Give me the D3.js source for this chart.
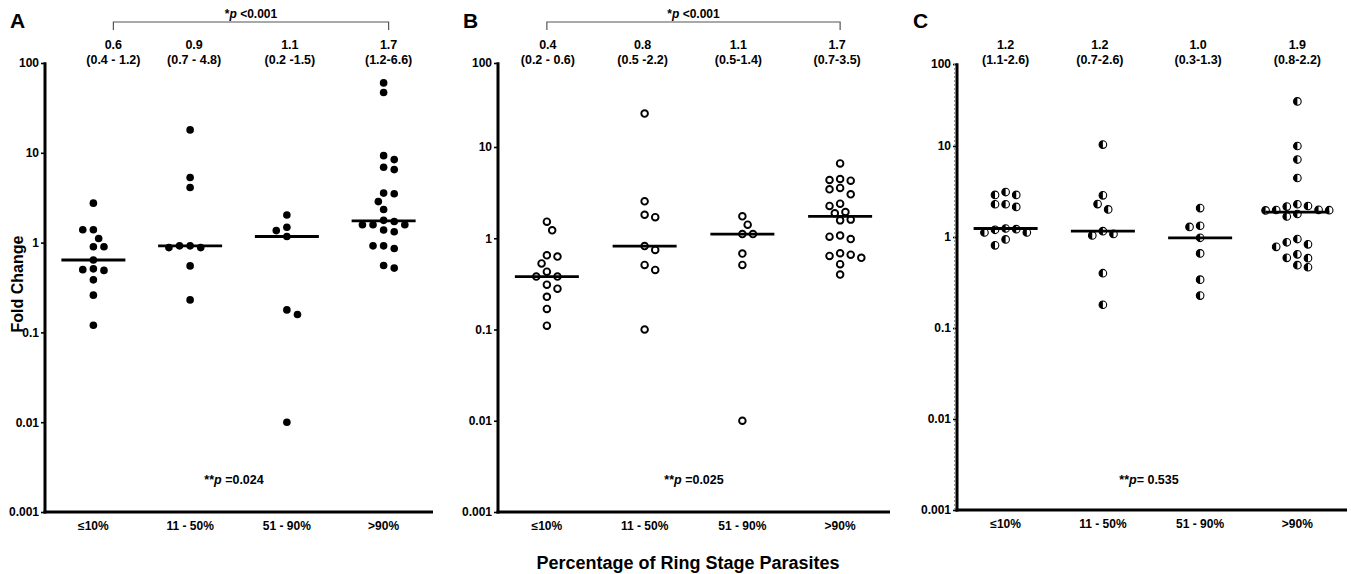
<!DOCTYPE html>
<html>
<head>
<meta charset="utf-8">
<script src="https://cdn.jsdelivr.net/npm/d3@7"></script>
<style>
    body { margin: 0; background: #fff; }
    text { font-family: "Liberation Sans", Arial, sans-serif; font-weight: bold; fill: #000; }
</style>
</head>
<body>
<svg id="chart" width="1351" height="574"></svg>
<script>
// categories and axis ticks
const categories = ["≤10%", "11 - 50%", "51 - 90%", ">90%"];
const yTicks = [0.001, 0.01, 0.1, 1, 10, 100];
const yTickLabels = ["0.001", "0.01", "0.1", "1", "10", "100"];

// panel A - fold change per group (filled dots)
const valuesA = [
    [2.75, 1.39, 1.39, 1.11, 0.90, 0.90, 0.64, 0.51, 0.50, 0.49, 0.385, 0.26, 0.12],
    [18, 5.3, 4.1, 0.92, 0.92, 0.88, 0.88, 0.55, 0.23],
    [2.03, 1.48, 1.36, 1.17, 0.178, 0.158, 0.01],
    [60, 47, 9.3, 8.4, 6.9, 6.5, 3.56, 3.5, 2.86, 2.34, 1.77, 1.72, 1.58, 1.58, 1.58, 1.38, 1.32, 0.92, 0.92, 0.86, 0.555, 0.52]
];
const medianA = ["0.6", "0.9", "1.1", "1.7"];
const rangeA = ["(0.4 - 1.2)", "(0.7 - 4.8)", "(0.2 -1.5)", "(1.2-6.6)"];

// panel B (open circles)
const valuesB = [
    [1.52, 1.22, 0.65, 0.63, 0.53, 0.43, 0.38, 0.38, 0.31, 0.28, 0.228, 0.168, 0.11],
    [25, 2.54, 1.81, 1.70, 0.82, 0.745, 0.51, 0.45, 0.1],
    [1.74, 1.41, 1.11, 1.11, 0.68, 0.51, 0.01],
    [6.6, 4.46, 4.35, 4.28, 3.56, 3.44, 3.03, 2.39, 2.26, 1.94, 1.88, 1.60, 1.57, 1.07, 1.04, 0.98, 0.685, 0.66, 0.64, 0.61, 0.52, 0.40]
];
const medianB = ["0.4", "0.8", "1.1", "1.7"];
const rangeB = ["(0.2 - 0.6)", "(0.5 -2.2)", "(0.5-1.4)", "(0.7-3.5)"];

// panel C (half filled circles)
const valuesC = [
    [3.12, 2.9, 2.9, 2.29, 2.29, 2.14, 1.24, 1.22, 1.2, 1.12, 1.12, 0.94, 0.81],
    [10.4, 2.87, 2.3, 2.01, 1.16, 1.08, 1.04, 0.40, 0.18],
    [2.08, 1.33, 1.29, 0.98, 0.66, 0.34, 0.227],
    [35, 10.0, 7.1, 4.45, 2.29, 2.19, 2.16, 1.99, 1.98, 1.97, 1.96, 1.79, 1.68, 0.95, 0.875, 0.83, 0.78, 0.645, 0.59, 0.585, 0.49, 0.465]
];
const medianC = ["1.2", "1.2", "1.0", "1.9"];
const rangeC = ["(1.1-2.6)", "(0.7-2.6)", "(0.3-1.3)", "(0.8-2.2)"];

// p values
const trendP = ["<0.001", "<0.001", null];
const kwP = ["=0.024", "=0.025", "= 0.535"];

const svg = d3.select("#chart");

// layout of the three panels
const panels = [
    { letter: "A", values: valuesA, medians: medianA, ranges: rangeA, trend: trendP[0], kw: kwP[0], kwSpace: " ",
      style: "filled", x0: 45, x1: 432, yDomain: [0.001, 100], yRange: [512, 63],
      labelDx: [20, 4, 3, 5], bracketDx: [20, 5], letterX: 10, kwX: 234 },
    { letter: "B", values: valuesB, medians: medianB, ranges: rangeB, trend: trendP[1], kw: kwP[1], kwSpace: " ",
      style: "open", x0: 498, x1: 889, yDomain: [0.001, 10, 100], yRange: [512, 147, 63],
      labelDx: [1, -2, -4, -3], bracketDx: [0, 0], letterX: 463, kwX: 694 },
    { letter: "C", values: valuesC, medians: medianC, ranges: rangeC, trend: trendP[2], kw: kwP[2], kwSpace: "",
      style: "half", x0: 957, x1: 1346, yDomain: [0.001, 10, 100], yRange: [510, 146, 64],
      labelDx: [0, -3, -2, 0], bracketDx: [0, 0], letterX: 913, kwX: 1149 }
];

// simple beeswarm: place each point on a lattice of horizontal offsets without overlap
function swarm(vals, y, minD, step) {
    const pts = vals.map(v => ({ v: v, y: y(v) })).sort((a, b) => a.y - b.y);
    const placed = [];
    pts.forEach((p, i) => {
        const side = i % 2 ? 1 : -1;
        for (let k = 0; k < 60; k++) {
            const off = k === 0 ? 0 : (k % 2 ? side : -side) * Math.ceil(k / 2) * step;
            if (placed.every(q => Math.hypot(q.dx - off, q.y - p.y) >= minD)) { p.dx = off; break; }
        }
        placed.push(p);
    });
    return placed;
}

panels.forEach(function (pn) {
    const x = d3.scaleBand().domain(categories).range([pn.x0, pn.x1]);
    const y = d3.scaleLog().domain(pn.yDomain).range(pn.yRange);
    const g = svg.append("g");
    const cx = c => x(c) + x.bandwidth() / 2;

    // panel letter
    g.append("text")
        .attr("x", pn.letterX)
        .attr("y", 28)
        .attr("font-size", "21px")
        .text(pn.letter);

    // y axis
    const yAxis = g.append("g")
        .attr("transform", "translate(" + pn.x0 + ",0)")
        .call(d3.axisLeft(y).tickValues(yTicks).tickSize(4).tickPadding(2)
            .tickFormat((d, i) => yTickLabels[i]));
    yAxis.select(".domain").remove();
    yAxis.selectAll(".tick line").attr("stroke-width", 1.6);
    yAxis.selectAll(".tick text")
        .attr("font-size", "12px")
        .attr("font-family", null);

    if (pn.style === "half") {
        g.append("line")
            .attr("x1", pn.x0 - 2.5).attr("x2", pn.x0 - 2.5)
            .attr("y1", y(100)).attr("y2", y(0.001))
            .attr("stroke", "#999").attr("stroke-width", 1)
            .attr("stroke-dasharray", "2,2");
    }

    g.append("line")
        .attr("x1", pn.x0).attr("x2", pn.x0)
        .attr("y1", y(100) - 0.8).attr("y2", y(0.001) + 1.5)
        .attr("stroke", "#000").attr("stroke-width", 3);

    // x axis
    const xAxis = g.append("g")
        .attr("transform", "translate(0," + y(0.001) + ")")
        .call(d3.axisBottom(x).tickSize(0).tickPadding(9));
    xAxis.select(".domain").remove();
    xAxis.selectAll(".tick text")
        .attr("font-size", "12px")
        .attr("font-family", null);
    g.append("line")
        .attr("x1", pn.x0 - 1.5).attr("x2", pn.x1 + 1)
        .attr("y1", y(0.001)).attr("y2", y(0.001))
        .attr("stroke", "#000").attr("stroke-width", 3);

    // points and medians
    pn.values.forEach(function (vals, ci) {
        const c = categories[ci];
        const r = pn.style === "open" ? 3.3 : 3.8;
        const pts = swarm(vals, y, 8.8, 5.3);
        const grp = g.append("g");
        const dots = grp.selectAll("g.dot")
            .data(pts)
            .enter().append("g")
            .attr("class", "dot")
            .attr("transform", d => "translate(" + (cx(c) + d.dx) + "," + d.y + ")");
        if (pn.style === "filled") {
            dots.append("circle").attr("r", r).attr("fill", "#000");
        } else if (pn.style === "open") {
            dots.append("circle").attr("r", r).attr("fill", "#fff")
                .attr("stroke", "#000").attr("stroke-width", 1.9);
        } else {
            dots.append("circle").attr("r", r).attr("fill", "#fff")
                .attr("stroke", "#000").attr("stroke-width", 1.1);
            dots.append("path")
                .attr("d", "M0," + (-r) + "A" + r + "," + r + " 0 0 0 0," + r + "Z")
                .attr("fill", "#000");
        }
        const m = d3.median(vals);
        grp.append("line")
            .attr("x1", cx(c) - 32).attr("x2", cx(c) + 32)
            .attr("y1", y(m)).attr("y2", y(m))
            .attr("stroke", "#000").attr("stroke-width", 2.8);

        // median and range labels
        g.append("text")
            .attr("x", cx(c) + pn.labelDx[ci])
            .attr("y", 49)
            .attr("text-anchor", "middle")
            .attr("font-size", "12.5px")
            .text(pn.medians[ci]);
        g.append("text")
            .attr("x", cx(c) + pn.labelDx[ci])
            .attr("y", 64)
            .attr("text-anchor", "middle")
            .attr("font-size", "12.5px")
            .text(pn.ranges[ci]);
    });

    // trend bracket
    if (pn.trend) {
        const bx0 = cx(categories[0]) + pn.bracketDx[0];
        const bx1 = cx(categories[3]) + pn.bracketDx[1];
        g.append("path")
            .attr("d", "M" + bx0 + ",30V22H" + bx1 + "V30")
            .attr("fill", "none")
            .attr("stroke", "#555")
            .attr("stroke-width", 1.2);
        const t = g.append("text")
            .attr("x", (bx0 + bx1) / 2)
            .attr("y", 18)
            .attr("text-anchor", "middle")
            .attr("font-size", "12px");
        t.append("tspan").text("*");
        t.append("tspan").attr("font-style", "italic").text("p");
        t.append("tspan").text(" " + pn.trend);
    }

    // kruskal-wallis p
    const kt = g.append("text")
        .attr("x", pn.kwX)
        .attr("y", 484)
        .attr("text-anchor", "middle")
        .attr("font-size", "12.5px");
    kt.append("tspan").text("**");
    kt.append("tspan").attr("font-style", "italic").text("p");
    kt.append("tspan").text(pn.kwSpace + pn.kw);
});

// shared axis titles
svg.append("text")
    .attr("transform", "translate(23,284) rotate(-90)")
    .attr("text-anchor", "middle")
    .attr("font-size", "16px")
    .text("Fold Change");

svg.append("text")
    .attr("x", 688)
    .attr("y", 569)
    .attr("text-anchor", "middle")
    .attr("font-size", "18px")
    .text("Percentage of Ring Stage Parasites");
</script>
</body>
</html>
